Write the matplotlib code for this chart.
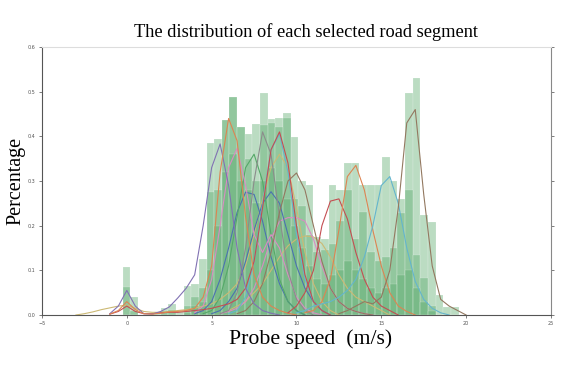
import matplotlib
matplotlib.use('Agg')
import matplotlib.pyplot as plt
import numpy as np

# histogram bins (m/s), shared by the three green layers
bin_left = np.arange(-0.25, 19.5, 0.45)
bin_width = 0.45

# envelope (lightest) layer
hist_light = [0.108, 0.04, 0, 0, 0.005, 0.016, 0.025, 0.01, 0.066, 0.07,
              0.125, 0.385, 0.395, 0.436, 0.488, 0.42, 0.405, 0.427, 0.497, 0.438,
              0.44, 0.452, 0.399, 0.30, 0.29, 0.175, 0.17, 0.29, 0.28, 0.34,
              0.34, 0.29, 0.29, 0.29, 0.354, 0.30, 0.26, 0.497, 0.53, 0.224,
              0.208, 0.045, 0.018, 0.018]
# middle layer
hist_mid = [0.063, 0.01, 0, 0, 0, 0.01, 0.012, 0, 0.02, 0.04,
            0.06, 0.276, 0.28, 0.436, 0.488, 0.42, 0.35, 0.30, 0.425, 0.43,
            0.42, 0.44, 0.26, 0.245, 0.18, 0.14, 0.145, 0.16, 0.21, 0.28,
            0.17, 0.23, 0.14, 0.12, 0.13, 0.15, 0.228, 0.28, 0.134, 0.083,
            0.02, 0, 0, 0]
# darkest core
hist_dark = [0, 0, 0, 0, 0, 0, 0, 0, 0.005, 0.02,
             0.03, 0.10, 0.20, 0.32, 0.36, 0.30, 0.28, 0.25, 0.30, 0.33,
             0.30, 0.26, 0.20, 0.15, 0.11, 0.08, 0.07, 0.09, 0.10, 0.12,
             0.10, 0.08, 0.06, 0.05, 0.06, 0.07, 0.09, 0.10, 0.06, 0.03,
             0.01, 0, 0, 0]

# density curves: (first speed, values every 0.5 m/s)
kde_purple = (-1.0, [0.003, 0.02, 0.055, 0.02, 0.003, 0.002, 0.008, 0.018, 0.038, 0.06,
                     0.09, 0.2, 0.33, 0.383, 0.29, 0.15, 0.06, 0.025, 0.01, 0.004, 0.0])
kde_orange = (-1.0, [0.002, 0.01, 0.03, 0.012, 0.003, 0.002, 0.004, 0.007, 0.008, 0.01,
                     0.015, 0.04, 0.11, 0.32, 0.44, 0.39, 0.22, 0.09, 0.04, 0.02, 0.01, 0.004, 0.0])
kde_red = (-1.0, [0.002, 0.008, 0.02, 0.008, 0.003, 0.003, 0.005, 0.006, 0.006, 0.008,
                  0.01, 0.012, 0.015, 0.02, 0.025, 0.035, 0.06, 0.12, 0.24, 0.37,
                  0.41, 0.34, 0.2, 0.09, 0.03, 0.01, 0.0])
kde_pink = (4.0, [0.005, 0.02, 0.08, 0.2, 0.33, 0.373, 0.29, 0.18, 0.14, 0.18,
                  0.15, 0.09, 0.04, 0.015, 0.005, 0.0])
kde_pink2 = (5.5, [0.003, 0.008, 0.015, 0.03, 0.06, 0.11, 0.17, 0.21, 0.218, 0.218,
                   0.21, 0.17, 0.11, 0.06, 0.03, 0.015, 0.008, 0.003, 0.0])
kde_green = (4.5, [0.003, 0.01, 0.04, 0.11, 0.22, 0.33, 0.36, 0.3, 0.18, 0.08,
                   0.03, 0.01, 0.0])
kde_gray = (5.5, [0.003, 0.01, 0.05, 0.15, 0.3, 0.41, 0.36, 0.22, 0.1, 0.035,
                  0.01, 0.0])
kde_cyan = (6.0, [0.003, 0.01, 0.04, 0.12, 0.25, 0.37, 0.405, 0.32, 0.18, 0.08,
                  0.03, 0.01, 0.0])
kde_olive = (-3.0, [0.0, 0.003, 0.007, 0.012, 0.016, 0.02, 0.022, 0.015, 0.008, 0.006,
                    0.006, 0.008, 0.01, 0.012, 0.015, 0.02, 0.025, 0.035, 0.05, 0.07,
                    0.11, 0.18, 0.26, 0.33, 0.36, 0.33, 0.24, 0.14, 0.07, 0.03,
                    0.01, 0.0])
kde_blue = (4.0, [0.003, 0.01, 0.03, 0.08, 0.15, 0.23, 0.275, 0.27, 0.21, 0.13,
                  0.07, 0.03, 0.01, 0.0])
kde_blue2 = (5.0, [0.003, 0.01, 0.03, 0.06, 0.12, 0.19, 0.25, 0.276, 0.25, 0.18,
                   0.11, 0.06, 0.03, 0.01, 0.0])
kde_brown = (6.5, [0.003, 0.01, 0.03, 0.07, 0.14, 0.23, 0.3, 0.318, 0.28, 0.2,
                   0.12, 0.06, 0.03, 0.015, 0.008, 0.003, 0.0])
kde_olive2 = (6.0, [0.01, 0.02, 0.03, 0.05, 0.07, 0.1, 0.13, 0.155, 0.17, 0.177,
                    0.175, 0.16, 0.13, 0.09, 0.06, 0.04, 0.03, 0.02, 0.01, 0.0])
kde_red2 = (9.5, [0.005, 0.02, 0.05, 0.1, 0.2, 0.255, 0.26, 0.215, 0.14, 0.08,
                  0.04, 0.02, 0.01, 0.0])
kde_orange2 = (10.5, [0.005, 0.01, 0.03, 0.08, 0.19, 0.31, 0.335, 0.28, 0.19, 0.11,
                      0.05, 0.02, 0.008, 0.0])
kde_cyan2 = (10.0, [0.005, 0.01, 0.02, 0.025, 0.03, 0.04, 0.055, 0.08, 0.13, 0.2,
                    0.29, 0.31, 0.25, 0.15, 0.075, 0.035, 0.015, 0.005, 0.0])
kde_brown2 = (12.5, [0.003, 0.01, 0.02, 0.03, 0.025, 0.04, 0.1, 0.24, 0.43, 0.46,
                     0.27, 0.11, 0.035, 0.02, 0.01, 0.0])

curves = [
    (kde_olive, '#CCB974'), (kde_olive2, '#CCB974'),
    (kde_pink2, '#DA8BC3'), (kde_blue2, '#4C72B0'), (kde_blue, '#4C72B0'),
    (kde_green, '#55A868'), (kde_pink, '#DA8BC3'), (kde_gray, '#8C8C8C'),
    (kde_cyan, '#64B5CD'), (kde_red, '#C44E52'), (kde_brown, '#937860'),
    (kde_purple, '#8172B3'), (kde_orange, '#DD8452'),
    (kde_red2, '#C44E52'), (kde_orange2, '#DD8452'),
    (kde_cyan2, '#64B5CD'), (kde_brown2, '#937860'),
]

fig = plt.figure(figsize=(5.79, 3.69), dpi=100)
ax = fig.add_axes([0.0725, 0.1463, 0.8791, 0.7263])

hist_color = '#55A868'
for h in [hist_light, hist_mid, hist_dark]:
    ax.bar(bin_left, h, width=bin_width, align='edge', color=hist_color,
           alpha=0.4, edgecolor='white', linewidth=0.3)

for (x0, vals), c in curves:
    xs = x0 + 0.5 * np.arange(len(vals))
    ax.plot(xs, vals, color=c, lw=0.8)

ax.set_xlim(-5, 25)
ax.set_ylim(0, 0.6)
ax.set_xticks([-5, 0, 5, 10, 15, 20, 25])
ax.set_yticks([0.0, 0.1, 0.2, 0.3, 0.4, 0.5, 0.6])
ax.set_yticklabels(['0.0', '0.1', '0.2', '0.3', '0.4', '0.5', '0.6'])
ax.tick_params(labelsize=3.5, labelcolor='#555555', length=2.5, width=0.6,
               color='#666666', pad=2)
ax.tick_params(axis='y', right=True, direction='out')

ax.spines['left'].set_color('#555555')
ax.spines['bottom'].set_color('#555555')
ax.spines['right'].set_color('#888888')
ax.spines['top'].set_color('#dddddd')
for s in ax.spines.values():
    s.set_linewidth(0.8)

ax.set_title('The distribution of each selected road segment',
             family='Liberation Serif', fontsize=13.2, pad=7, x=0.519)
ax.set_xlabel('Probe speed  (m/s)', family='Liberation Serif', fontsize=15.7,
              labelpad=2, x=0.527)
ax.set_ylabel('Percentage', family='Liberation Serif', fontsize=14.5, labelpad=2)

fig.savefig('out.png', dpi=100)
